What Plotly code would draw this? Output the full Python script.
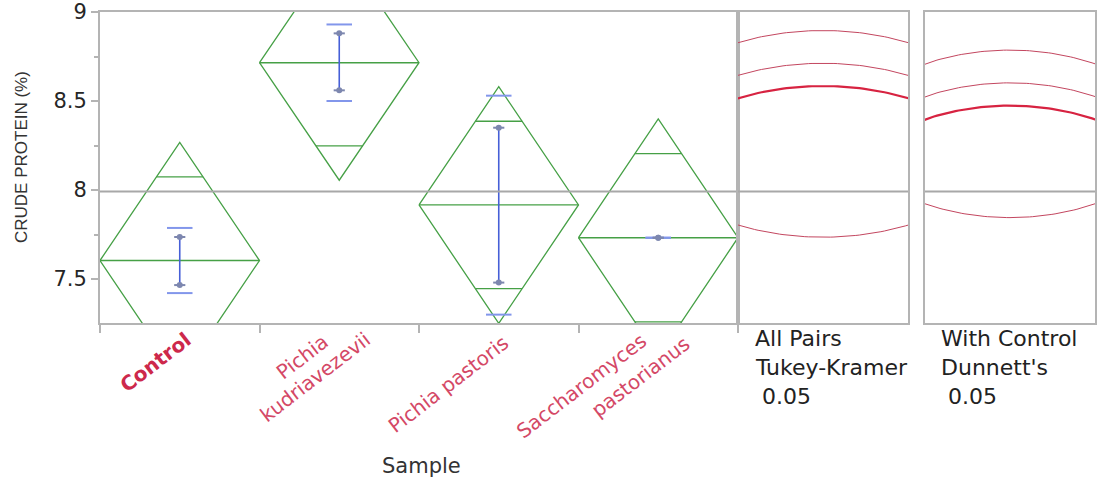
import math
import plotly.graph_objects as go

# ---------------- data ----------------
categories = ["Control", "Pichia kudriavezevii", "Pichia pastoris", "Saccharomyces pastorianus"]
tick_lines = [["<b>Control</b>"], ["Pichia", "kudriavezevii"], ["Pichia pastoris"],
              ["Saccharomyces", "pastorianus"]]
means = [7.604, 8.715, 7.916, 7.732]
diamond_ci = [0.664, 0.660, 0.665, 0.668]          # half-width of 95% CI (diamond)
sd_low = [7.421, 8.500, 7.300, 7.732]              # std dev lines
sd_high = [7.787, 8.930, 8.530, 7.732]
se_low = [7.466, 8.560, 7.480, 7.732]              # mean error bars
se_high = [7.736, 8.880, 8.350, 7.732]
tukey_radius = 0.98
dunnett_radius = 0.87
control_index = 0
y_ticks = [7.5, 8, 8.5, 9]
y_tick_text = ["7.5", "8", "8.5", "9"]
y_range = [7.253, 9.0]

grand_mean = sum(means) / len(means)

# ---------------- layout helpers ----------------
W, H = 1097, 481
def px(x):
    return x / W
def py(y):
    return 1 - y / H

main_dom = [px(100), px(738)]
p1_dom = [px(738), px(908)]
p2_dom = [px(925), px(1095)]
y_dom = [py(323), py(12)]
circ_half = 0.358  # half width of circle panels in y units
# pixel offsets (from category centre / axis bottom) of each rotated label line
label_offsets = [[(-24, 39)], [(-37, 34), (-24, 54)], [(-50, 61)], [(-77, 63), (-18, 54)]]

GREEN = "rgb(70,160,70)"
BLUE = "rgb(70,95,215)"
CAPGRAY = "rgb(125,135,175)"
LBLUE = "rgb(130,150,235)"
FRAME = "#b4b4b4"
RED = "rgb(215,35,65)"
RED_THIN = "rgb(195,70,95)"
LABEL_RED = "rgb(212,72,102)"

fig = go.Figure()

# diamonds
dx, dy = [], []
ovl = 1 / math.sqrt(2)
for i, (m, c) in enumerate(zip(means, diamond_ci)):
    dx += [i - 0.5, i, i + 0.5, i, i - 0.5, None]
    dy += [m, m + c, m, m - c, m, None]
    dx += [i - 0.5, i + 0.5, None]
    dy += [m, m, None]
    hw = 0.5 * (1 - ovl)
    for s in (1, -1):
        dx += [i - hw, i + hw, None]
        dy += [m + s * c * ovl, m + s * c * ovl, None]
fig.add_trace(go.Scatter(x=dx, y=dy, mode="lines", line=dict(color=GREEN, width=1.3),
                         hoverinfo="skip", xaxis="x", yaxis="y"))

# std dev lines
sx, sy = [], []
for i, (lo, hi) in enumerate(zip(sd_low, sd_high)):
    for v in (lo, hi):
        sx += [i - 0.08, i + 0.08, None]
        sy += [v, v, None]
fig.add_trace(go.Scatter(x=sx, y=sy, mode="lines", line=dict(color=LBLUE, width=2),
                         hoverinfo="skip", xaxis="x", yaxis="y"))

# mean error bars
ex, ey = [], []
cx, cy = [], []
for i, (lo, hi) in enumerate(zip(se_low, se_high)):
    ex += [i, i, None]
    ey += [lo, hi, None]
    for v in (lo, hi):
        cx += [i - 0.035, i + 0.035, None]
        cy += [v, v, None]
fig.add_trace(go.Scatter(x=ex, y=ey, mode="lines", line=dict(color=BLUE, width=1.6),
                         hoverinfo="skip", xaxis="x", yaxis="y"))
fig.add_trace(go.Scatter(x=cx, y=cy, mode="lines", line=dict(color=CAPGRAY, width=2),
                         hoverinfo="skip", xaxis="x", yaxis="y"))
fig.add_trace(go.Scatter(x=list(range(len(means))) * 2, y=se_low + se_high, mode="markers",
                         marker=dict(color=CAPGRAY, size=6), hoverinfo="skip", xaxis="x", yaxis="y"))

# grand mean lines
fig.add_trace(go.Scatter(x=[-0.5, len(means) - 0.5], y=[grand_mean] * 2, mode="lines",
                         line=dict(color="#a8a8a8", width=2), hoverinfo="skip", xaxis="x", yaxis="y"))
for xa, ya in (("x2", "y2"), ("x3", "y3")):
    fig.add_trace(go.Scatter(x=[-circ_half, circ_half], y=[grand_mean] * 2, mode="lines",
                             line=dict(color="#a8a8a8", width=2), hoverinfo="skip", xaxis=xa, yaxis=ya))

# comparison circles
N = 400
ts = [2 * math.pi * k / N for k in range(N + 1)]
for r, xa, ya in ((tukey_radius, "x2", "y2"), (dunnett_radius, "x3", "y3")):
    for i, m in enumerate(means):
        sel = i == control_index
        fig.add_trace(go.Scatter(
            x=[r * math.cos(t) for t in ts], y=[m + r * math.sin(t) for t in ts],
            mode="lines", line=dict(color=RED if sel else RED_THIN, width=2.2 if sel else 1),
            hoverinfo="skip", xaxis=xa, yaxis=ya))

axis_common = dict(showgrid=False, zeroline=False, showline=True, linecolor=FRAME, linewidth=2,
                   mirror=True, fixedrange=True, automargin=False)
fig.update_layout(
    width=W, height=H, autosize=False,
    margin=dict(l=0, r=0, t=0, b=0, pad=0),
    paper_bgcolor="white", plot_bgcolor="white",
    showlegend=False,
    xaxis=dict(domain=main_dom, range=[-0.5, len(means) - 0.5],
               tickvals=[i - 0.5 for i in range(len(means) + 1)],
               ticktext=[""] * (len(means) + 1), ticks="outside", ticklen=8, tickcolor=FRAME,
               tickwidth=1.5, **axis_common),
    yaxis=dict(domain=y_dom, range=y_range, tickvals=y_ticks, ticktext=y_tick_text,
               ticks="outside", ticklen=7, tickcolor=FRAME, tickwidth=1.5,
               tickfont=dict(family="DejaVu Sans", size=21, color="#262626"),
               minor=dict(tickvals=[7.25, 7.75, 8.25, 8.75], ticks="outside", ticklen=4, tickcolor=FRAME),
               **axis_common),
    xaxis2=dict(domain=p1_dom, range=[-circ_half, circ_half], showticklabels=False, anchor="y2",
                **axis_common),
    yaxis2=dict(domain=y_dom, range=y_range, showticklabels=False, anchor="x2", **axis_common),
    xaxis3=dict(domain=p2_dom, range=[-circ_half, circ_half], showticklabels=False, anchor="y3",
                **axis_common),
    yaxis3=dict(domain=y_dom, range=y_range, showticklabels=False, anchor="x3", **axis_common),
)

ann = []
# category labels (each line its own rotated text)
for i, (lines, offs) in enumerate(zip(tick_lines, label_offsets)):
    for t, (ox, oy) in zip(lines, offs):
        ann.append(dict(x=i, y=y_dom[0], xref="x", yref="paper", text=t, textangle=-37.5,
                        showarrow=False, xanchor="center", yanchor="middle",
                        xshift=ox, yshift=-oy,
                        font=dict(family="DejaVu Sans", size=20,
                                  color="rgb(205,40,75)" if i == control_index else LABEL_RED)))
# axis titles
ann.append(dict(x=px(22), y=py(157), xref="paper", yref="paper", text="CRUDE PROTEIN (%)",
                textangle=-90, showarrow=False, xanchor="center", yanchor="middle",
                font=dict(family="Liberation Sans", size=17, color="#333")))
ann.append(dict(x=px(421), y=py(466), xref="paper", yref="paper", text="Sample",
                showarrow=False, xanchor="center", yanchor="middle",
                font=dict(family="DejaVu Sans", size=21, color="#333")))
# circle panel captions
for x0, lines in ((753, ["All Pairs", "Tukey-Kramer", " 0.05"]),
                  (939, ["With Control", "Dunnett's", " 0.05"])):
    for k, t in enumerate(lines):
        ann.append(dict(x=px(x0), y=py(338 + 29 * k), xref="paper", yref="paper",
                        text=t.replace(" ", "&nbsp;"),
                        showarrow=False, xanchor="left", yanchor="middle",
                        font=dict(family="DejaVu Sans", size=22, color="#222")))
fig.update_layout(annotations=ann)

fig.write_html("out.html", config={"displayModeBar": False},
               post_script="document.body.style.margin='0';")
